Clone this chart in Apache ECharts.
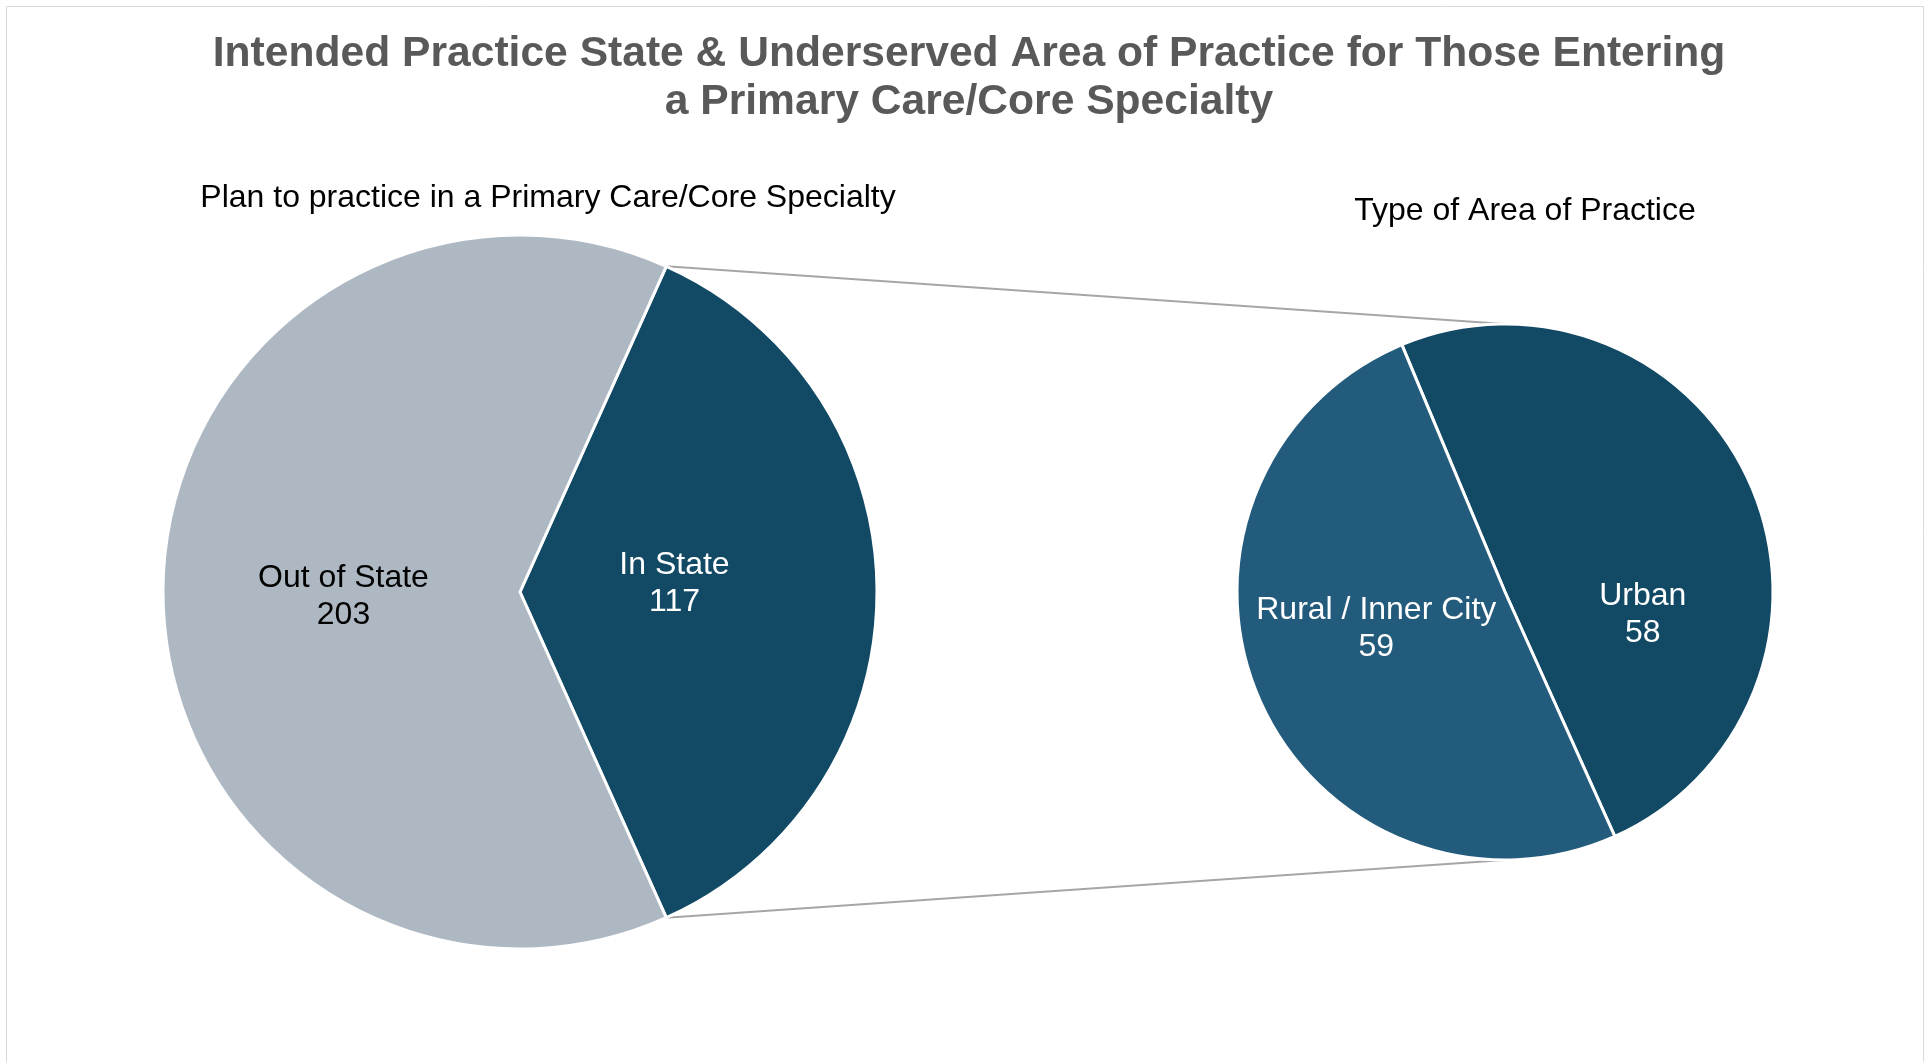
<!DOCTYPE html>
<html>
<head>
<meta charset="utf-8">
<title>Intended Practice State & Underserved Area</title>
<script src="https://cdn.jsdelivr.net/npm/echarts@6/dist/echarts.min.js"></script>
<style>
  html, body { margin: 0; padding: 0; background: #fff; }
  #chart { width: 1931px; height: 1062px; }
</style>
</head>
<body>
<div id="chart"></div>
<script>
// data
const stateNames = ['In State', 'Out of State'];
const stateValues = [117, 203];
const areaNames = ['Urban', 'Rural / Inner City'];
const areaValues = [58, 59];

const FONT = '"Liberation Sans", Arial, sans-serif';
const leftCenter = [520, 592];
const leftRadius = 357;
const rightCenter = [1505, 592];
const rightRadius = 268;

const stateTotal = stateValues.reduce((a, b) => a + b, 0);
const areaTotal = areaValues.reduce((a, b) => a + b, 0);
// In State slice is centred on the right side of the first pie
const halfIn = stateValues[0] / stateTotal * 180;
const rightStart = -halfIn + areaValues[0] / areaTotal * 360;

// label nudges (Excel puts them slightly differently from echarts)
const leftShift = [[-27, -8], [5, 5]];
const rightShift = [[12, 77], [-3, -18]];

const chart = echarts.init(document.getElementById('chart'));

const rad = halfIn * Math.PI / 180;
const topPt = [leftCenter[0] + leftRadius * Math.cos(rad), leftCenter[1] - leftRadius * Math.sin(rad)];
const botPt = [topPt[0], leftCenter[1] + leftRadius * Math.sin(rad)];

const option = {
  animation: false,
  backgroundColor: '#fff',
  title: [
    {
      text: 'Intended Practice State & Underserved Area of Practice for Those Entering\na Primary Care/Core Specialty',
      left: 964,
      top: 25,
      textAlign: 'center',
      textStyle: { color: '#595959', fontSize: 42.6, fontWeight: 'bold', fontFamily: FONT, lineHeight: 48 }
    },
    {
      text: 'Plan to practice in a Primary Care/Core Specialty',
      left: 543,
      top: 175,
      textAlign: 'center',
      textStyle: { color: '#000', fontSize: 32, fontWeight: 'normal', fontFamily: FONT, lineHeight: 36 }
    },
    {
      text: 'Type of Area of Practice',
      left: 1520,
      top: 188,
      textAlign: 'center',
      textStyle: { color: '#000', fontSize: 32, fontWeight: 'normal', fontFamily: FONT, lineHeight: 36 }
    }
  ],
  graphic: [
    {
      type: 'rect',
      shape: { x: 6.5, y: 6.5, width: 1917, height: 1100 },
      style: { fill: 'none', stroke: '#D9D9D9', lineWidth: 1 },
      silent: true
    },
    {
      type: 'line',
      shape: { x1: topPt[0], y1: topPt[1], x2: rightCenter[0], y2: rightCenter[1] - rightRadius },
      style: { stroke: '#A6A6A6', lineWidth: 2 },
      silent: true
    },
    {
      type: 'line',
      shape: { x1: botPt[0], y1: botPt[1], x2: rightCenter[0], y2: rightCenter[1] + rightRadius },
      style: { stroke: '#A6A6A6', lineWidth: 2 },
      silent: true
    }
  ],
  series: [
    {
      name: 'State',
      type: 'pie',
      center: leftCenter,
      radius: leftRadius,
      startAngle: halfIn,
      clockwise: true,
      avoidLabelOverlap: false,
      itemStyle: { borderColor: '#fff', borderWidth: 3 },
      label: {
        position: 'inside',
        formatter: '{b}\n{c}',
        fontSize: 32,
        lineHeight: 37,
        fontFamily: FONT,
        align: 'center'
      },
      labelLayout: function (p) {
        return { dx: leftShift[p.dataIndex][0], dy: leftShift[p.dataIndex][1] };
      },
      emphasis: { disabled: true },
      data: stateNames.map((n, i) => ({
        name: n,
        value: stateValues[i],
        itemStyle: { color: i === 0 ? '#124A66' : '#AEB8C3' },
        label: { color: i === 0 ? '#fff' : '#000' }
      }))
    },
    {
      name: 'Area',
      type: 'pie',
      center: rightCenter,
      radius: rightRadius,
      startAngle: rightStart,
      clockwise: true,
      avoidLabelOverlap: false,
      itemStyle: { borderColor: '#fff', borderWidth: 3 },
      label: {
        position: 'inside',
        formatter: '{b}\n{c}',
        fontSize: 32,
        lineHeight: 37,
        color: '#fff',
        fontFamily: FONT,
        align: 'center'
      },
      labelLayout: function (p) {
        return { dx: rightShift[p.dataIndex][0], dy: rightShift[p.dataIndex][1] };
      },
      emphasis: { disabled: true },
      data: areaNames.map((n, i) => ({
        name: n,
        value: areaValues[i],
        itemStyle: { color: i === 0 ? '#124A66' : '#235B7D' }
      }))
    }
  ]
};

chart.setOption(option);
window.addEventListener('resize', () => chart.resize());
</script>
</body>
</html>
